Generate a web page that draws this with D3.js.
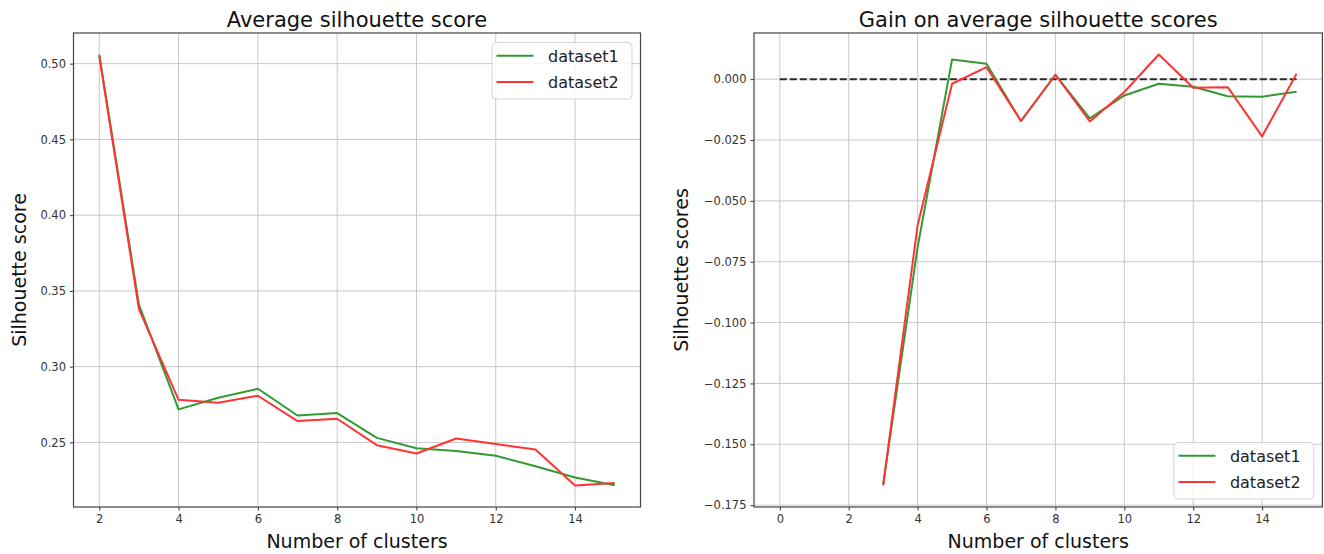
<!DOCTYPE html>
<html>
<head>
<meta charset="utf-8">
<script src="https://cdn.jsdelivr.net/npm/d3@7"></script>
<style>
  body { margin: 0; background: #fff; }
  svg { font-family: "DejaVu Sans", sans-serif; }
  .tick text { fill: #333; font-size: 11.5px; }
  .grid line { stroke: #c8c8c8; stroke-width: 1; }
</style>
</head>
<body>
<script>
// number of clusters
var clusters = [2, 3, 4, 5, 6, 7, 8, 9, 10, 11, 12, 13, 14, 15];
var gainClusters = [3, 4, 5, 6, 7, 8, 9, 10, 11, 12, 13, 14, 15];

// average silhouette score
var score1 = [0.506, 0.341, 0.2718, 0.2795, 0.2854, 0.2678, 0.2694, 0.253, 0.2462, 0.2443, 0.2412, 0.2343, 0.2269, 0.2218];
var score2 = [0.505, 0.338, 0.2781, 0.2762, 0.2808, 0.2641, 0.2656, 0.2482, 0.2427, 0.2526, 0.2489, 0.2454, 0.2216, 0.2233];

// gain on average silhouette scores
var gain1 = [-0.1665, -0.069, 0.0081, 0.0063, -0.0172, 0.0018, -0.0161, -0.0067, -0.0019, -0.0031, -0.0070, -0.0072, -0.0052];
var gain2 = [-0.1669, -0.060, -0.0019, 0.0049, -0.0172, 0.0018, -0.0174, -0.0053, 0.0101, -0.0035, -0.0033, -0.0235, 0.0022];

// reference line for the gain plot
var baseline = [0, 15];

// tick labels
var xTicksLeft = [2, 4, 6, 8, 10, 12, 14];
var yTicksLeft = [0.25, 0.30, 0.35, 0.40, 0.45, 0.50];
var xTicksRight = [0, 2, 4, 6, 8, 10, 12, 14];
var yTicksRight = [-0.175, -0.150, -0.125, -0.100, -0.075, -0.050, -0.025, 0.000];

var seriesNames = ["dataset1", "dataset2"];
var seriesColors = ["#339933", "#ff3333"];

var svgWidth = 1324, svgHeight = 554;
var plotTop = 33, plotBottom = 507;

var svg = d3.select("body").append("svg")
    .attr("width", svgWidth)
    .attr("height", svgHeight);

// matplotlib style padding of 5% on each side
function padded(ext) {
    var m = (ext[1] - ext[0]) * 0.05;
    return [ext[0] - m, ext[1] + m];
}

function drawPanel(p) {
    var x = d3.scaleLinear().domain(padded(p.xExtent)).range([p.left, p.right]);
    var y = d3.scaleLinear().domain(padded(p.yExtent)).range([plotBottom, plotTop]);

    // grid
    svg.append("g").attr("class", "grid")
        .selectAll("line").data(p.xTicks).enter().append("line")
        .attr("x1", d => x(d)).attr("x2", d => x(d))
        .attr("y1", plotTop).attr("y2", plotBottom);
    svg.append("g").attr("class", "grid")
        .selectAll("line").data(p.yTicks).enter().append("line")
        .attr("x1", p.left).attr("x2", p.right)
        .attr("y1", d => y(d)).attr("y2", d => y(d));

    // axes
    var xAxis = d3.axisBottom(x).tickValues(p.xTicks).tickSize(3.5).tickPadding(4).tickFormat(d3.format("d"));
    var yAxis = d3.axisLeft(y).tickValues(p.yTicks).tickSize(3.5).tickPadding(4).tickFormat(d3.format(p.yFormat));
    var gx = svg.append("g").attr("transform", "translate(0," + plotBottom + ")").call(xAxis);
    var gy = svg.append("g").attr("transform", "translate(" + p.left + ",0)").call(yAxis);
    [gx, gy].forEach(g => {
        g.select(".domain").remove();
        g.selectAll(".tick line").attr("stroke", "#333");
        g.selectAll(".tick text").attr("font-family", "DejaVu Sans");
    });

    // frame
    svg.append("rect")
        .attr("x", p.left).attr("y", plotTop)
        .attr("width", p.right - p.left).attr("height", plotBottom - plotTop)
        .attr("fill", "none").attr("stroke", "#444").attr("stroke-width", 1.2);

    if (p.dashed) {
        svg.append("line")
            .attr("x1", x(p.dashed[0])).attr("x2", x(p.dashed[1]))
            .attr("y1", y(0)).attr("y2", y(0))
            .attr("stroke", "#000").attr("stroke-opacity", 0.8)
            .attr("stroke-width", 2).attr("stroke-dasharray", "7,3");
    }

    var line = d3.line().x(d => x(d[0])).y(d => y(d[1]));
    p.series.forEach((s, i) => {
        svg.append("path")
            .datum(p.xs.map((c, j) => [c, s[j]]))
            .attr("d", line)
            .attr("fill", "none")
            .attr("stroke", seriesColors[i])
            .attr("stroke-width", 2)
            .attr("stroke-linejoin", "round");
    });

    // titles
    svg.append("text")
        .attr("x", (p.left + p.right) / 2).attr("y", 27)
        .attr("text-anchor", "middle").attr("font-size", 21).attr("fill", "#111")
        .text(p.title);
    svg.append("text")
        .attr("x", (p.left + p.right) / 2).attr("y", 548)
        .attr("text-anchor", "middle").attr("font-size", 19).attr("fill", "#111")
        .text("Number of clusters");
    svg.append("text")
        .attr("transform", "translate(" + p.ylabelX + "," + ((plotTop + plotBottom) / 2) + ") rotate(-90)")
        .attr("text-anchor", "middle").attr("font-size", 19).attr("fill", "#111")
        .text(p.ylabel);

    // legend
    var lw = 140, lh = 56.5;
    var lx = p.right - 8.5 - lw;
    var ly = p.legendTop ? plotTop + 9.5 : plotBottom - 8 - lh;
    var lg = svg.append("g").attr("transform", "translate(" + lx + "," + ly + ")");
    lg.append("rect")
        .attr("width", lw).attr("height", lh).attr("rx", 4)
        .attr("fill", "#fff").attr("fill-opacity", 0.8)
        .attr("stroke", "#d5d5d5");
    seriesNames.forEach((n, i) => {
        var cy = 13.3 + i * 26.3;
        lg.append("line")
            .attr("x1", 4.5).attr("x2", 41.5).attr("y1", cy).attr("y2", cy)
            .attr("stroke", seriesColors[i]).attr("stroke-width", 2);
        lg.append("text")
            .attr("x", 56).attr("y", cy + 6)
            .attr("font-size", 16).attr("fill", "#222")
            .text(n);
    });
}

drawPanel({
    left: 73.5, right: 640.5,
    xs: clusters, series: [score1, score2],
    xExtent: d3.extent(clusters),
    yExtent: d3.extent(score1.concat(score2)),
    xTicks: xTicksLeft, yTicks: yTicksLeft, yFormat: ".2f",
    title: "Average silhouette score", ylabel: "Silhouette score", ylabelX: 26,
    legendTop: true
});

drawPanel({
    left: 754, right: 1322.4,
    xs: gainClusters, series: [gain1, gain2],
    xExtent: d3.extent(baseline.concat(gainClusters)),
    yExtent: d3.extent(gain1.concat(gain2)),
    xTicks: xTicksRight, yTicks: yTicksRight, yFormat: ".3f",
    title: "Gain on average silhouette scores", ylabel: "Silhouette scores", ylabelX: 688,
    legendTop: false, dashed: baseline
});
</script>
</body>
</html>
